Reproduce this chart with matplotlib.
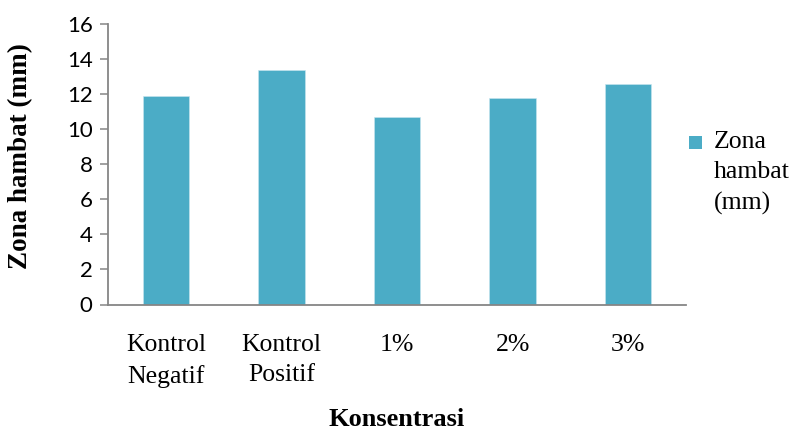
import matplotlib
matplotlib.use("Agg")
import matplotlib.pyplot as plt
from matplotlib.patches import Patch, Rectangle
from matplotlib.legend_handler import HandlerPatch

categories = ["Kontrol\nNegatif", "Kontrol\nPositif", "1%", "2%", "3%"]
zona_hambat = [11.9, 13.4, 10.7, 11.8, 12.6]
y_ticks = [0, 2, 4, 6, 8, 10, 12, 14, 16]
series_label = "Zona\nhambat\n(mm)"

bar_color = "#4BACC6"
axis_gray = "#868686"
serif = ["Liberation Serif", "DejaVu Serif"]
sans = ["Lato", "DejaVu Sans"]

fig = plt.figure(figsize=(7.9, 4.3), dpi=100)
ax = fig.add_axes([108 / 790, 1 - 304.5 / 430, (686 - 108) / 790, (304.5 - 24) / 430])

x = list(range(len(categories)))
ax.bar(x, zona_hambat, width=0.4, color=bar_color, edgecolor="#c8e6ef", linewidth=0.4)

ax.set_xlim(-0.5, len(categories) - 0.5)
ax.set_ylim(0, 16)

for side in ("top", "right"):
    ax.spines[side].set_visible(False)
for side in ("left", "bottom"):
    ax.spines[side].set_color(axis_gray)
    ax.spines[side].set_linewidth(1.3)

ax.tick_params(axis="y", length=6, width=1.1, color=axis_gray, pad=5)
ax.tick_params(axis="x", length=0, pad=21)

ax.set_yticks(y_ticks)
ax.set_yticklabels([str(v) for v in y_ticks])
ax.set_xticks(x)
ax.set_xticklabels(categories)

for lbl in ax.get_yticklabels():
    lbl.set_fontfamily(sans)
    lbl.set_fontsize(16)
for lbl in ax.get_xticklabels():
    lbl.set_fontfamily(serif)
    lbl.set_fontsize(18.5)
    lbl.set_linespacing(1.5)

ax.set_xlabel("Konsentrasi", family=serif, fontsize=19, fontweight="bold")
ax.xaxis.set_label_coords(0.5, -0.368)
ax.set_ylabel("Zona hambat (mm)", family=serif, fontsize=19.5, fontweight="bold")
ax.yaxis.set_label_coords(-0.13, 0.53)


def top_square(legend, orig_handle, xdescent, ydescent, width, height, fontsize):
    # square key sitting level with the first line of the label
    side = 0.52 * fontsize
    return Rectangle((-xdescent, -ydescent + height - side + 8), side, side)


handle = Patch(facecolor=bar_color, edgecolor="none")
leg = ax.legend([handle], [series_label], loc="upper left",
                bbox_to_anchor=(689 / 790, 1 - 131 / 430),
                bbox_transform=fig.transFigure, frameon=False,
                prop={"family": serif, "size": 18.5}, handlelength=0.52, handleheight=2.9,
                handletextpad=0.45, borderpad=0, borderaxespad=0,
                handler_map={Patch: HandlerPatch(patch_func=top_square)})
for t in leg.get_texts():
    t.set_linespacing(1.5)

fig.savefig("out.png", dpi=100)
